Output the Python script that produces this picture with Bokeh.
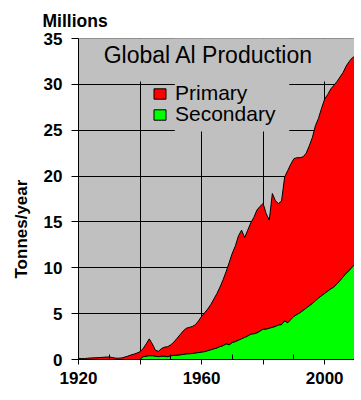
import numpy as np
from bokeh.plotting import figure
from bokeh.models import (FixedTicker, Label, Legend, LegendItem, BoxAnnotation,
                          Title)
from bokeh.embed import file_html
from bokeh.resources import INLINE

# ---- data (million tonnes per year) ----
years = list(range(1920, 2011))

total_production = [
    0.13, 0.10, 0.10, 0.14, 0.17, 0.18, 0.20, 0.21, 0.24, 0.27,   # 1920-29
    0.27, 0.22, 0.15, 0.14, 0.17, 0.26, 0.36, 0.49, 0.58, 0.70,   # 1930-39
    0.85, 1.20, 1.70, 2.25, 1.70, 1.00, 0.90, 1.20, 1.35, 1.40,   # 1940-49
    1.60, 1.90, 2.30, 2.70, 3.10, 3.40, 3.50, 3.60, 3.80, 4.20,   # 1950-59
    4.70, 5.10, 5.50, 6.00, 6.60, 7.20, 7.90, 8.70, 9.60, 10.60,  # 1960-69
    11.60, 12.40, 13.50, 14.10, 13.30, 14.10, 14.90, 15.50, 16.30, 16.70,  # 1970-79
    17.00, 15.90, 15.20, 18.10, 17.30, 17.00, 17.30, 19.90, 20.60, 21.30,  # 1980-89
    21.90, 22.00, 22.00, 22.10, 22.50, 23.30, 24.20, 25.50, 26.30, 27.40,  # 1990-99
    28.40, 28.90, 29.50, 29.90, 30.30, 30.80, 31.30, 32.00, 32.50, 32.90,  # 2000-09
    33.10,                                                                 # 2010
]

secondary = [
    0.00, 0.00, 0.00, 0.00, 0.00, 0.00, 0.00, 0.00, 0.00, 0.00,   # 1920-29
    0.00, 0.00, 0.00, 0.00, 0.00, 0.00, 0.00, 0.00, 0.00, 0.00,   # 1930-39
    0.00, 0.30, 0.35, 0.40, 0.40, 0.35, 0.30, 0.35, 0.35, 0.30,   # 1940-49
    0.40, 0.45, 0.45, 0.50, 0.55, 0.60, 0.62, 0.65, 0.70, 0.75,   # 1950-59
    0.80, 0.85, 0.95, 1.05, 1.15, 1.25, 1.40, 1.50, 1.70, 1.60,   # 1960-69
    1.85, 1.95, 2.10, 2.25, 2.40, 2.55, 2.75, 2.80, 2.90, 3.10,   # 1970-79
    3.30, 3.30, 3.40, 3.50, 3.60, 3.75, 3.80, 4.20, 4.00, 4.35,   # 1980-89
    4.70, 4.90, 5.10, 5.35, 5.60, 5.85, 6.10, 6.40, 6.70, 6.95,   # 1990-99
    7.20, 7.45, 7.70, 7.90, 8.25, 8.60, 9.00, 9.40, 9.70, 10.10,  # 2000-09
    10.40,                                                        # 2010
]

primary = list(np.array(total_production) - np.array(secondary))

y_ticks = [0, 5, 10, 15, 20, 25, 30, 35]
x_major_ticks = [1920, 1940, 1960, 1980, 2000]
x_minor_ticks = [1930, 1950, 1970, 1990]
x_labels = {1920: "1920", 1940: "", 1960: "1960", 1980: "", 2000: "2000"}

# ---- stacked polygons built from the series ----
stack_top = list(np.array(secondary) + np.array(primary))
zeros = [0.0] * len(years)
prim_x = years + years[::-1]
prim_y = stack_top + secondary[::-1]
sec_x = years + years[::-1]
sec_y = secondary + zeros[::-1]

GRAY = "#c0c0c0"
FONT = "Liberation Sans"

p = figure(width=354, height=400, x_range=(1920, 2009.7), y_range=(0, 35),
           output_backend="svg", toolbar_location=None,
           min_border_left=76, min_border_right=0, min_border_top=32,
           min_border_bottom=41)
p.background_fill_color = GRAY
p.border_fill_color = "white"
p.outline_line_color = "#808080"
p.outline_line_width = 1

# "Millions" unit caption above the axis
p.title.text = "Millions"
p.title.align = "left"
p.title.offset = -36
p.title.text_font = FONT
p.title.text_font_style = "bold"
p.title.text_font_size = "17.5px"
p.title.text_color = "black"
p.title.standoff = 16

# grids
p.xgrid.ticker = FixedTicker(ticks=[1940, 1960, 1980, 2000])
p.ygrid.ticker = FixedTicker(ticks=[5, 10, 15, 20, 25, 30])
for g in (p.xgrid, p.ygrid):
    g.grid_line_color = "black"
    g.grid_line_width = 1

# gray blocks hiding gridlines behind title and legend
p.add_layout(BoxAnnotation(bottom=30.3, fill_color=GRAY, fill_alpha=1,
                           line_color=None, level="underlay"))
p.add_layout(BoxAnnotation(left=1951.3, right=1988.5, bottom=24.85,
                           fill_color=GRAY, fill_alpha=1, line_color=None,
                           level="underlay"))

r_prim = p.patch(prim_x, prim_y, fill_color="#ff0000", line_color="black",
                 line_width=1)
r_sec = p.patch(sec_x, sec_y, fill_color="#00ff00", line_color="black",
                line_width=1)

# axes
p.xaxis.ticker = FixedTicker(ticks=x_major_ticks, minor_ticks=x_minor_ticks)
p.xaxis.major_label_overrides = x_labels
p.yaxis.ticker = FixedTicker(ticks=y_ticks)
for ax in (p.xaxis, p.yaxis):
    ax.axis_line_color = "black"
    ax.major_tick_line_color = "black"
    ax.minor_tick_line_color = "black"
    ax.major_label_text_font = FONT
    ax.major_label_text_font_style = "bold"
    ax.major_label_text_font_size = "17px"
    ax.major_label_text_color = "black"
    ax.major_tick_in = 0
p.xaxis.major_tick_out = 5
p.xaxis.minor_tick_in = 5
p.xaxis.minor_tick_out = 0
p.xaxis.major_label_standoff = 7
p.yaxis.major_tick_out = 7
p.yaxis.minor_tick_line_color = None
p.yaxis.major_label_standoff = 9

# y-axis caption (placed lower than centre, as in the reference)
p.add_layout(Title(text="Tonnes/year", align="left", offset=81,
                   text_font=FONT, text_font_style="bold",
                   text_font_size="17px", text_color="black", standoff=19),
             "left")

# chart heading inside the plot area
p.add_layout(Label(x=130, y=305, x_units="screen", y_units="screen",
                   text="Global Al Production", text_font=FONT,
                   text_font_size="23px", text_align="center",
                   text_baseline="alphabetic", text_color="black"))

common = dict(padding=0, margin=0, spacing=0, glyph_width=15, glyph_height=13,
              label_standoff=8, label_text_font=FONT,
              label_text_font_size="21px", label_text_color="black",
              background_fill_alpha=0, border_line_color=None)
p.add_layout(Legend(items=[LegendItem(label="Primary", renderers=[r_prim])],
                    location=(74, 254), **common))
p.add_layout(Legend(items=[LegendItem(label="Secondary", renderers=[r_sec])],
                    location=(74, 233), **common))

open("out.html", "w").write(file_html(p, INLINE))
